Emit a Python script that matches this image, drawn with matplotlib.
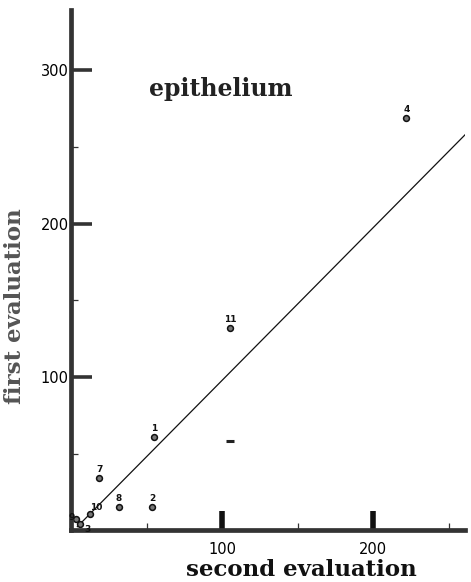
import matplotlib.pyplot as plt
from matplotlib.ticker import MultipleLocator

# patient values
labels = ["1", "2", "3", "4", "7", "8", "9", "10", "11"]
second_eval = [55, 53.5, 6, 222, 18.5, 31.5, 3, 12.5, 105]
first_eval = [61, 15.5, 4, 269, 34, 15.5, 7.5, 10.5, 132]

# regression line end points
fit_x = [4, 263]
fit_y = [2.5, 260]

# stray dash on the original
dash_x = [105]
dash_y = [58.5]

fig = plt.figure(figsize=(4.71, 5.82), dpi=100)
ax = fig.add_axes([0.1514, 0.0885, 0.8366, 0.894])

ax.plot(fit_x, fit_y, color="#111111", linewidth=0.9)
ax.plot(second_eval, first_eval, "o", markersize=4.2,
        markerfacecolor="#777777", markeredgecolor="#111111",
        markeredgewidth=1.1, linestyle="none")
ax.plot(dash_x, dash_y, "_", markersize=6, markeredgewidth=2.2,
        color="#222222")

# label offsets (points) so the small numbers sit like the original
offsets = {"3": (5, -4), "9": (-3, 1), "10": (4, 5)}
for lab, x, y in zip(labels, second_eval, first_eval):
    dx, dy = offsets.get(lab, (0, 6))
    ax.annotate(lab, (x, y), xytext=(dx, dy), textcoords="offset points",
                ha="center", va="center", fontsize=6.5,
                fontweight="bold", color="#111111")

ax.set_xlim(0, 261)
ax.set_ylim(0, 339)

for side in ["top", "right"]:
    ax.spines[side].set_visible(False)
for side in ["left", "bottom"]:
    ax.spines[side].set_linewidth(3.4)
    ax.spines[side].set_color("#333333")

ax.xaxis.set_major_locator(MultipleLocator(100))
ax.xaxis.set_minor_locator(MultipleLocator(50))
ax.yaxis.set_major_locator(MultipleLocator(100))
ax.yaxis.set_minor_locator(MultipleLocator(50))
ax.set_yticks([100, 200, 300])
ax.set_xticks([100, 200])

ax.tick_params(axis="y", which="major", direction="in", length=15,
               width=2.6, color="#333333", pad=2, labelsize=10.5)
ax.tick_params(axis="x", which="major", direction="in", length=14,
               width=4, color="#111111", pad=8, labelsize=10.5)
ax.tick_params(which="minor", direction="in", length=5, width=0.9,
               color="#333333")

ax.set_xlabel("second evaluation", fontsize=16.5, fontweight="bold",
              family="DejaVu Serif", color="#111111")
ax.xaxis.set_label_coords(0.583, -0.054)
ax.set_ylabel("first evaluation", fontsize=16.5, fontweight="bold",
              family="DejaVu Serif", color="#555555")
ax.yaxis.set_label_coords(-0.115, 0.431)

ax.text(0.38, 0.848, "epithelium", transform=ax.transAxes, ha="center",
        va="center", fontsize=17, fontweight="bold", family="DejaVu Serif",
        color="#222222")

plt.savefig("out.png", dpi=100)
plt.close()
